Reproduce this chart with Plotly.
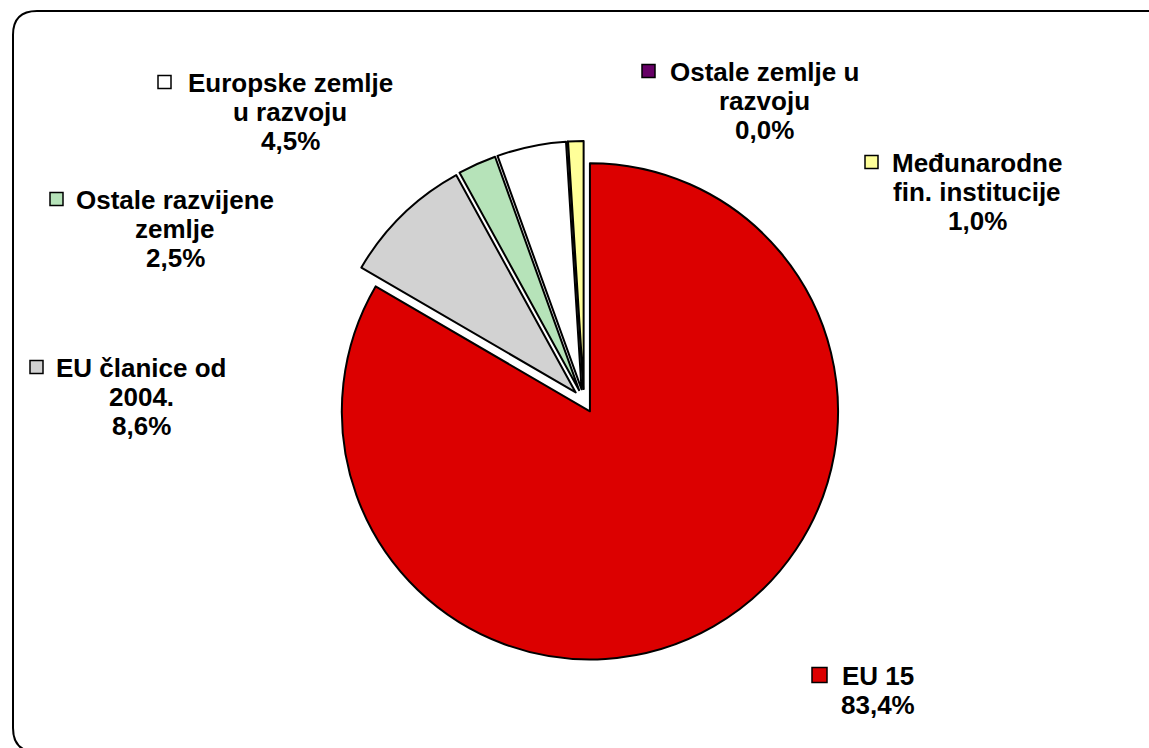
import plotly.graph_objects as go

# ---- data ----
categories = ["EU 15", "EU članice od 2004.", "Ostale razvijene zemlje",
              "Europske zemlje u razvoju", "Ostale zemlje u razvoju",
              "Međunarodne fin. institucije"]
values = [83.4, 8.6, 2.5, 4.5, 0.0, 1.0]
label_lines = [["EU 15"],
               ["EU članice od", "2004."],
               ["Ostale razvijene", "zemlje"],
               ["Europske zemlje", "u razvoju"],
               ["Ostale zemlje u", "razvoju"],
               ["Međunarodne", "fin. institucije"]]

# ---- styles ----
colors = ["#dc0000", "#d2d2d2", "#b6e3b9", "#ffffff", "#660066", "#ffff99"]
W, H = 1149, 748
FONT = "Liberation Sans, Arial, sans-serif"
FS = 26
LINE = 29

# label layout (pixel: text centre x, first line centre y, square left x)
label_pos = [(878, 676, 812), (141, 368, 30), (175, 200, 50),
             (290, 83, 158), (764, 72, 642), (977, 163, 865)]
sq_size = [15, 13, 13, 13, 13, 13]

def px(x):
    return x / W

def py(y):
    return 1 - y / H

fig = go.Figure(go.Pie(
    labels=categories, values=values, sort=False, direction="clockwise",
    rotation=0, pull=[0.048] * len(values), textinfo="none",
    hoverinfo="label+percent",
    marker=dict(colors=colors, line=dict(color="black", width=2)),
    domain=dict(x=[px(324), px(844)], y=[py(661), py(141)]),
    showlegend=False))

annotations = []
shapes = []
for lines, v, col, (cx, y1, sqx), s in zip(label_lines, values, colors, label_pos, sq_size):
    all_lines = lines + [f"{v:.1f}".replace(".", ",") + "%"]
    for i, t in enumerate(all_lines):
        annotations.append(dict(
            x=px(cx), y=py(y1 + i * LINE), xref="paper", yref="paper",
            text=f"<b>{t}</b>", showarrow=False, xanchor="center", yanchor="middle",
            font=dict(family=FONT, size=FS, color="black")))
    shapes.append(dict(type="rect", xref="paper", yref="paper",
                       x0=px(sqx), x1=px(sqx + s), y0=py(y1 - s / 2 - 1), y1=py(y1 + s / 2 - 1),
                       fillcolor=col, line=dict(color="black", width=1.5)))

# rounded outer border
L, T, R, B, rr = 13, 11, 1170, 752, 24
path = (f"M {px(L + rr)},{py(T)} L {px(R - rr)},{py(T)} "
        f"Q {px(R)},{py(T)} {px(R)},{py(T + rr)} L {px(R)},{py(B - rr)} "
        f"Q {px(R)},{py(B)} {px(R - rr)},{py(B)} L {px(L + rr)},{py(B)} "
        f"Q {px(L)},{py(B)} {px(L)},{py(B - rr)} L {px(L)},{py(T + rr)} "
        f"Q {px(L)},{py(T)} {px(L + rr)},{py(T)} Z")
shapes.append(dict(type="path", xref="paper", yref="paper", path=path,
                   line=dict(color="black", width=2), fillcolor="rgba(0,0,0,0)", layer="below"))

fig.update_layout(width=W, height=H, margin=dict(l=0, r=0, t=0, b=0),
                  paper_bgcolor="white", plot_bgcolor="white",
                  annotations=annotations, shapes=shapes)

fig.write_html("out.html", config={"displayModeBar": False},
               post_script="document.body.style.margin='0';document.body.style.overflow='hidden';")
